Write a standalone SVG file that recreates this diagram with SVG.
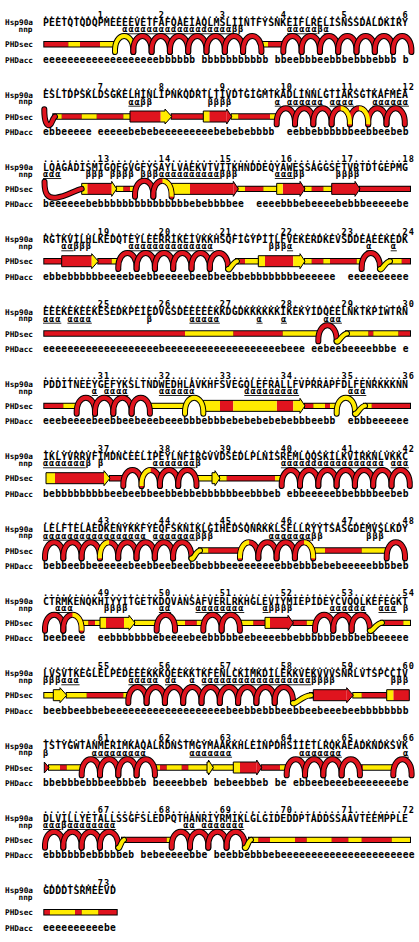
<svg xmlns="http://www.w3.org/2000/svg" width="419" height="942" viewBox="0 0 419 942">
<style>
text{font-family:"DejaVu Sans Mono","Liberation Mono",monospace;font-weight:bold;fill:#000;white-space:pre}
.ru{font-size:8.6px;letter-spacing:0.92px}
.sq{font-size:9.9px;letter-spacing:0.14px}
.nn{font-size:8.6px;letter-spacing:0.92px}
.ac{font-size:9.6px;letter-spacing:0.32px}
.lb{font-size:7.75px}
.u{text-decoration:underline}
.ko{fill:none;stroke:#000;stroke-width:6.4}
.kr{fill:none;stroke:#e0141e;stroke-width:4.4}
.ky{fill:none;stroke:#ffeb00;stroke-width:4.4}
.sr{fill:none;stroke:#e0141e;stroke-width:11}
.sy{fill:none;stroke:#ffeb00;stroke-width:11}
.fr{fill:#e0141e}
.fy{fill:#ffeb00}
.ol{fill:none;stroke:#000;stroke-width:1}
.to{fill:none;stroke:#000;stroke-width:6;stroke-linecap:round}
.tr{fill:none;stroke:#e0141e;stroke-width:4;stroke-linecap:round}
.ty{fill:none;stroke:#ffeb00;stroke-width:4;stroke-linecap:round}
.hx use{stroke:#e0141e}
.hx use.y{stroke:#ffeb00}
</style>
<defs>
<g id="A" fill="none" stroke-linecap="round"><path d="M0,52c-.9,-21.33 19.2,-21.33 18.3,0" stroke="#000" stroke-width="6"/><path d="M0,52c-.9,-21.33 19.2,-21.33 18.3,0" stroke-width="4"/></g>
<path id="L" d="M0,52c-.45,-10.67 4.35,-16 9.15,-16" fill="none" stroke="#ffeb00" stroke-width="4"/>
<path id="R" d="M9.15,36c4.8,0 9.6,5.33 9.15,16" fill="none" stroke="#ffeb00" stroke-width="4"/>
</defs>
<rect width="419" height="942" fill="#fff"/>

<g id="block1">
<text class="lb" x="5" y="25.3">Hsp90a</text><text class="lb" x="32.5" y="31.9" text-anchor="end">nnp</text><text class="lb" x="5" y="47.4">PHDsec</text><text class="lb" x="5" y="62.7">PHDacc</text>
<text class="ru" x="43" y="17.7">....,....1....,....2....,....3....,....4....,....5....,....6</text>
<text class="sq" x="43" y="26.1">PEETQTQDQPMEEEEVETFAFQAEIAQLMSLIINTFYSNKEIFLRELISNSSDALDKIRY</text>
<text class="nn" x="43" y="32.4"><tspan class="u" x="122.3">αααααααααααααααααα</tspan>ββ<tspan class="u" x="287">ααααα</tspan>β<tspan class="u">α</tspan></text>
<text class="ac" x="43" y="62.6" xml:space="preserve">eeeeeeeeeeeeeeeeeeebbbbbb bbbbbbbbbbb bbeebbbeebbbebbbebbb b</text>
<g id="sec1">
<path class="ko" d="M43.3,44.2H116M260.4,44.2H284.3"/>
<path class="kr" d="M44.3,44.2H68.3M80,44.2H100M268,44.2H283.3"/>
<path class="ky" d="M68.3,44.2H80M100,44.2H115M261.4,44.2H268"/>
<g class="hx"><use href="#A" x="115" class="y"/><use href="#A" x="133.3"/><use href="#A" x="151.6"/><use href="#A" x="169.9"/><use href="#A" x="188.2"/><use href="#A" x="206.5"/><use href="#A" x="224.8"/><use href="#A" x="243.1"/><use href="#A" x="283.3"/><use href="#A" x="301.6"/><use href="#A" x="319.9"/><use href="#A" x="338.2"/><use href="#A" x="356.5"/><use href="#A" x="374.8"/><use href="#A" x="393.1"/></g>
</g>
</g>

<g id="block2" transform="translate(0,72.33)">
<text class="lb" x="5" y="25.3">Hsp90a</text><text class="lb" x="32.5" y="31.9" text-anchor="end">nnp</text><text class="lb" x="5" y="47.4">PHDsec</text><text class="lb" x="5" y="62.7">PHDacc</text>
<text class="ru" x="43" y="17.7">....,....7....,....8....,....9....,....10...,....11...,....12</text>
<text class="sq" x="43" y="26.1">ESLTDPSKLDSGKELHINLIPNKQDRTLTIVDTGIGMTKADLINNLGTIAKSGTKAFMEA</text>
<text class="nn" x="43" y="32.4"><tspan class="u" x="128.4">αα</tspan>ββ<tspan x="207.7">ββββ</tspan><tspan class="u" x="274.8">α</tspan><tspan class="u" x="287">αααααα</tspan><tspan class="u" x="329.7">αααα</tspan><tspan class="u" x="372.4">αααααα</tspan></text>
<text class="ac" x="43" y="62.6" xml:space="preserve">ebbeeeee eeeeebebebeeeeeeeeebebebebbbb  eebbebbbbbbeebbeebeb</text>
<g id="sec2">
<path class="ko" d="M52.3,44.2H131M170.7,44.2H204.3M230.7,44.2H277.7"/>
<path class="kr" d="M61.7,44.2H81.7M96.7,44.2H123.3M171.7,44.2H203.3M238.3,44.2H270"/>
<path class="ky" d="M53.3,44.2H61.7M81.7,44.2H96.7M123.3,44.2H130M231.7,44.2H238.3M270,44.2H276.7"/>
<path class="sr" d="M130,44.2H160.7M209.3,44.2H226.7"/>
<path class="sy" d="M160.7,44.2H165M203.3,44.2H209.3"/>
<path class="fy" d="M165,36.7L171.7,44.2L165,51.7Z"/>
<path class="fr" d="M226.7,36.7L231.7,44.2L226.7,51.7Z"/>
<path class="ol" d="M130,38.7H165V36.7L171.7,44.2L165,51.7V49.7H130ZM203.3,38.7H226.7V36.7L231.7,44.2L226.7,51.7V49.7H203.3Z"/>
<path class="to" d="M44.3,37C44.3,50 47,54 50,52.5C52,51.5 53,45 55,44.2"/><path class="tr" d="M44.3,37C44.3,50 47,54 50,52.5C52,51.5 53,45 55,44.2"/>
<g class="hx"><use href="#A" x="276.7"/><use href="#A" x="295"/><use href="#A" x="313.3"/><use href="#A" x="331.6"/><use href="#A" x="349.9"/><use href="#A" x="368.2"/><use href="#A" x="386.5"/></g>
<use href="#R" x="331.6"/><use href="#R" x="349.9"/>
</g>
</g>

<g id="block3" transform="translate(0,144.67)">
<text class="lb" x="5" y="25.3">Hsp90a</text><text class="lb" x="32.5" y="31.9" text-anchor="end">nnp</text><text class="lb" x="5" y="47.4">PHDsec</text><text class="lb" x="5" y="62.7">PHDacc</text>
<text class="ru" x="43" y="17.7">....,....13...,....14...,....15...,....16...,....17...,....18</text>
<text class="sq" x="43" y="26.1">LQAGADISMIGQFGVGFYSAYLVAEKVTVITKHNDDEQYAWESSAGGSFTVRTDTGEPMG</text>
<text class="nn" x="43" y="32.4"><tspan class="u" x="43">ααα</tspan><tspan x="85.7">βββ</tspan><tspan x="110.1">ββββ</tspan><tspan x="140.6">βββ</tspan><tspan class="u">αααααααααα</tspan>βββ<tspan class="u" x="274.8">ααα</tspan>ββ<tspan x="335.8">ββββ</tspan></text>
<text class="ac" x="43" y="62.6" xml:space="preserve">beeeeeebebbbbbbbbbbbbbbbebebbbbee  eeeebbbebeeeebebbbeeeeebe</text>
<g id="sec3">
<path class="ko" d="M115.7,44.2H136M237.3,44.2H277.7M304,44.2H332.7M359,44.2H411"/>
<path class="kr" d="M123.3,44.2H130M245,44.2H263.3M311.7,44.2H323.3M360,44.2H410"/>
<path class="ky" d="M116.7,44.2H123.3M130,44.2H135M238.3,44.2H245M263.3,44.2H276.7M305,44.2H311.7M323.3,44.2H331.7"/>
<path class="sr" d="M87.3,44.2H111.7M190,44.2H233.3M282.7,44.2H300M331.7,44.2H355"/>
<path class="sy" d="M81.7,44.2H87.3M170,44.2H190M276.7,44.2H282.7"/>
<path class="fy" d="M111.7,36.7L116.7,44.2L111.7,51.7Z"/>
<path class="fr" d="M233.3,36.7L238.3,44.2L233.3,51.7ZM300,36.7L305,44.2L300,51.7ZM355,36.7L360,44.2L355,51.7Z"/>
<path class="ol" d="M81.7,38.7H111.7V36.7L116.7,44.2L111.7,51.7V49.7H81.7ZM170,38.7H233.3V36.7L238.3,44.2L233.3,51.7V49.7H170ZM276.7,38.7H300V36.7L305,44.2L300,51.7V49.7H276.7ZM331.7,38.7H355V36.7L360,44.2L355,51.7V49.7H331.7Z"/>
<path class="to" d="M44.5,37C44.5,50 48,54 56,53C66,52 74,46 81.7,44.2"/><path class="tr" d="M44.5,37C44.5,50 48,54 56,53C66,52 74,46 81.7,44.2"/>
<g class="hx"><use href="#A" x="135"/><use href="#A" x="153.3"/></g>
<use href="#R" x="153.3"/>
</g>
</g>

<g id="block4" transform="translate(0,217)">
<text class="lb" x="5" y="25.3">Hsp90a</text><text class="lb" x="32.5" y="31.9" text-anchor="end">nnp</text><text class="lb" x="5" y="47.4">PHDsec</text><text class="lb" x="5" y="62.7">PHDacc</text>
<text class="ru" x="43" y="17.7">....,....19...,....20...,....21...,....22...,....23...,....24</text>
<text class="sq" x="43" y="26.1">RGTKVILHLKEDQTEYLEERRIKEIVKKHSQFIGYPITLFVEKERDKEVSDDEAEEKEDK</text>
<text class="nn" x="43" y="32.4"><tspan class="u" x="61.3">αα</tspan>βββ<tspan class="u" x="128.4">αααααααααααααα</tspan><tspan x="268.7">βββ</tspan><tspan class="u">α</tspan><tspan class="u" x="366.3">α</tspan><tspan class="u" x="390.7">α</tspan></text>
<text class="ac" x="43" y="62.6" xml:space="preserve">ebbebbbbbbeeeebeebbeeeeebeebbeebbebbbbbbbbeeeeee  eeeeeeeeee</text>
<g id="sec4">
<path class="ko" d="M43.3,44.2H62.7M97.3,44.2H119.3M235,44.2H259.3M304,44.2H362.7M388,44.2H411"/>
<path class="kr" d="M44.3,44.2H61.7M98.3,44.2H111.7M240,44.2H245M311.7,44.2H323.3M330,44.2H356.7M401.7,44.2H410"/>
<path class="ky" d="M111.7,44.2H118.3M236,44.2H240M245,44.2H258.3M305,44.2H311.7M323.3,44.2H330M356.7,44.2H361.7M389,44.2H401.7"/>
<path class="sr" d="M61.7,44.2H91.7M265,44.2H293.3"/>
<path class="sy" d="M258.3,44.2H265M293.3,44.2H300"/>
<path class="fy" d="M91.7,36.7L98.3,44.2L91.7,51.7ZM300,36.7L305,44.2L300,51.7Z"/>
<path class="ol" d="M61.7,38.7H91.7V36.7L98.3,44.2L91.7,51.7V49.7H61.7ZM258.3,38.7H300V36.7L305,44.2L300,51.7V49.7H258.3Z"/>
<g class="hx"><use href="#A" x="118.3"/><use href="#A" x="136.6"/><use href="#A" x="154.9"/><use href="#A" x="173.2"/><use href="#A" x="191.5"/><use href="#A" x="209.8"/><use href="#A" x="361.7"/></g>
<path class="to" d="M228.1,52C229.5,54.5 233,44.5 237,44.2"/><path class="ty" d="M228.1,52C229.5,54.5 233,44.5 237,44.2"/>
<path class="to" d="M380,52C381.5,54.5 385,44.5 390,44.2"/><path class="ty" d="M380,52C381.5,54.5 385,44.5 390,44.2"/>
</g>
</g>

<g id="block5" transform="translate(0,289.33)">
<text class="lb" x="5" y="25.3">Hsp90a</text><text class="lb" x="32.5" y="31.9" text-anchor="end">nnp</text><text class="lb" x="5" y="47.4">PHDsec</text><text class="lb" x="5" y="62.7">PHDacc</text>
<text class="ru" x="43" y="17.7">....,....25...,....26...,....27...,....28...,....29...,....30</text>
<text class="sq" x="43" y="26.1">EEEKEKEEKESEDKPEIEDVGSDEEEEEKKDGDKKKKKKIKEKYIDQEELNKTKPIWTRN</text>
<text class="nn" x="43" y="32.4"><tspan class="u" x="43">ααα</tspan><tspan class="u" x="67.4">αααα</tspan><tspan x="146.7">β</tspan><tspan class="u" x="189.4">ααααα</tspan><tspan class="u" x="256.5">α</tspan><tspan class="u" x="280.9">α</tspan><tspan class="u" x="323.6">ααα</tspan></text>
<text class="ac" x="43" y="62.6" xml:space="preserve">eeeeeeeeeeeeeeeeeeebeeeeeeeeeeeeeeeeeeebeee eebeebeeeebbbe e</text>
<g id="sec5">
<path class="ko" d="M43.3,44.2H319.3M345,44.2H411"/>
<path class="kr" d="M44.3,44.2H185M233.3,44.2H282.7M368.3,44.2H373.3M398.3,44.2H410"/>
<path class="ky" d="M185,44.2H233.3M282.7,44.2H318.3M346,44.2H368.3M373.3,44.2H398.3"/>
<g class="hx"><use href="#A" x="318.3"/></g>
<path class="to" d="M336.6,52C338,54.5 342,44.5 347,44.2"/><path class="ty" d="M336.6,52C338,54.5 342,44.5 347,44.2"/>
</g>
</g>

<g id="block6" transform="translate(0,361.67)">
<text class="lb" x="5" y="25.3">Hsp90a</text><text class="lb" x="32.5" y="31.9" text-anchor="end">nnp</text><text class="lb" x="5" y="47.4">PHDsec</text><text class="lb" x="5" y="62.7">PHDacc</text>
<text class="ru" x="43" y="17.7">....,....31...,....32...,....33...,....34...,....35...,....36</text>
<text class="sq" x="43" y="26.1">PDDITNEEYGEFYKSLTNDWEDHLAVKHFSVEGQLEFRALLFVPRRAPFDLFENRKKKNN</text>
<text class="nn" x="43" y="32.4"><tspan class="u" x="91.8">α</tspan><tspan class="u" x="104">αααα</tspan><tspan class="u" x="158.9">αααααα</tspan><tspan class="u" x="244.3">ααααααααα</tspan><tspan class="u" x="348">ααα</tspan></text>
<text class="ac" x="43" y="62.6" xml:space="preserve">eeebeeeebeebbeebeeebeeebbbebbbebebebebebebbbeebb  ebbbeeeeee</text>
<g id="sec6">
<path class="ko" d="M43.3,44.2H77.7M148.9,44.2H186M304,44.2H337.7M363,44.2H411"/>
<path class="kr" d="M44.3,44.2H63.3M305,44.2H313.3M325,44.2H330M371.7,44.2H410"/>
<path class="ky" d="M63.3,44.2H76.7M149.9,44.2H185M313.3,44.2H325M330,44.2H336.7M364,44.2H371.7"/>
<path class="sr" d="M220,44.2H233.3M276.7,44.2H293.3"/>
<path class="sy" d="M203.3,44.2H220M233.3,44.2H276.7M293.3,44.2H300"/>
<path class="fy" d="M300,36.7L305,44.2L300,51.7Z"/>
<path class="ol" d="M203.3,38.7H300V36.7L305,44.2L300,51.7V49.7H203.3Z"/>
<g class="hx"><use href="#A" x="76.7"/><use href="#A" x="95"/><use href="#A" x="113.3"/><use href="#A" x="131.6"/><use href="#A" x="185" class="y"/><use href="#A" x="336.7" class="y"/></g>
<path class="to" d="M355,52C356.5,54.5 360,44.5 365,44.2"/><path class="ty" d="M355,52C356.5,54.5 360,44.5 365,44.2"/>
</g>
</g>

<g id="block7" transform="translate(0,434)">
<text class="lb" x="5" y="25.3">Hsp90a</text><text class="lb" x="32.5" y="31.9" text-anchor="end">nnp</text><text class="lb" x="5" y="47.4">PHDsec</text><text class="lb" x="5" y="62.7">PHDacc</text>
<text class="ru" x="43" y="17.7">....,....37...,....38...,....39...,....40...,....41...,....42</text>
<text class="sq" x="43" y="26.1">IKLYVRRVFIMDNCEELIPEYLNFIRGVVDSEDLPLNISREMLQQSKILKVIRKNLVKKC</text>
<text class="nn" x="43" y="32.4"><tspan class="u" x="43">ααααααα</tspan>β<tspan x="97.9">β</tspan><tspan class="u" x="152.8">ααααααα</tspan>β<tspan class="u" x="280.9">ααααααααααααααααα</tspan><tspan class="u" x="390.7">ααα</tspan></text>
<text class="ac" x="43" y="62.6" xml:space="preserve">bebbbbbbbbbeebeebbeebbebbebbbbbbeebbbeb ebbeeeeebbebbbbeebeb</text>
<g id="sec7">
<path class="ko" d="M109,44.2H124.3M195.5,44.2H213M219,44.2H282.7"/>
<path class="kr" d="M110,44.2H123.3M226.7,44.2H275"/>
<path class="ky" d="M196.5,44.2H212M220,44.2H226.7M275,44.2H281.7"/>
<path class="sr" d="M55,44.2H104"/>
<path class="sy" d="M46,44.2H55M212,44.2H215"/>
<path class="fy" d="M104,36.7L110,44.2L104,51.7ZM215,36.7L220,44.2L215,51.7Z"/>
<path class="ol" d="M46,38.7H104V36.7L110,44.2L104,51.7V49.7H46ZM212,38.7H215V36.7L220,44.2L215,51.7V49.7H212Z"/>
<g class="hx"><use href="#A" x="123.3"/><use href="#A" x="141.6"/><use href="#A" x="159.9"/><use href="#A" x="178.2"/><use href="#A" x="281.7"/><use href="#A" x="300"/><use href="#A" x="318.3"/><use href="#A" x="336.6"/><use href="#A" x="354.9"/><use href="#A" x="373.2"/><use href="#A" x="391.5"/></g>
<use href="#L" x="141.6"/>
</g>
</g>

<g id="block8" transform="translate(0,506.33)">
<text class="lb" x="5" y="25.3">Hsp90a</text><text class="lb" x="32.5" y="31.9" text-anchor="end">nnp</text><text class="lb" x="5" y="47.4">PHDsec</text><text class="lb" x="5" y="62.7">PHDacc</text>
<text class="ru" x="43" y="17.7">....,....43...,....44...,....45...,....46...,....47...,....48</text>
<text class="sq" x="43" y="26.1">LELFTELAEDKENYKKFYEQFSKNIKLGIHEDSQNRKKLSELLRYYTSASGDEMVSLKDY</text>
<text class="nn" x="43" y="32.4"><tspan class="u" x="43">ααααααααααααααααα</tspan><tspan class="u" x="152.8">ααααααα</tspan>βββ<tspan class="u" x="268.7">ααααααα</tspan>ββ<tspan x="366.3">βββ</tspan></text>
<text class="ac" x="43" y="62.6" xml:space="preserve">bebbeebbeeeeeebeebbeebeebbebbbeeeeeeeeebbebbbebebeeeeebbbbeb</text>
<g id="sec8">
<path class="ko" d="M198,44.2H241M312.2,44.2H387.7"/>
<path class="kr" d="M208.3,44.2H240M325,44.2H361.7"/>
<path class="ky" d="M199,44.2H208.3M313.2,44.2H325M361.7,44.2H386.7"/>
<g class="hx"><use href="#A" x="45"/><use href="#A" x="63.3"/><use href="#A" x="81.6"/><use href="#A" x="99.9"/><use href="#A" x="118.2"/><use href="#A" x="136.5"/><use href="#A" x="154.8"/><use href="#A" x="173.1"/><use href="#A" x="240"/><use href="#A" x="258.3"/><use href="#A" x="276.6"/><use href="#A" x="294.9"/><use href="#A" x="386.7"/></g>
<use href="#L" x="99.9"/><use href="#L" x="240"/><use href="#R" x="294.9"/>
<path class="to" d="M191.4,52C193,54.5 196,44.5 200,44.2"/><path class="ty" d="M191.4,52C193,54.5 196,44.5 200,44.2"/>
</g>
</g>

<g id="block9" transform="translate(0,578.67)">
<text class="lb" x="5" y="25.3">Hsp90a</text><text class="lb" x="32.5" y="31.9" text-anchor="end">nnp</text><text class="lb" x="5" y="47.4">PHDsec</text><text class="lb" x="5" y="62.7">PHDacc</text>
<text class="ru" x="43" y="17.7">....,....49...,....50...,....51...,....52...,....53...,....54</text>
<text class="sq" x="43" y="26.1">CTRMKENQKHIYYITGETKDQVANSAFVERLRKHGLEVIYMIEPIDEYCVQQLKEFEGKT</text>
<text class="nn" x="43" y="32.4"><tspan class="u" x="55.2">ααα</tspan><tspan x="104">ββββ</tspan><tspan class="u" x="158.9">αα</tspan><tspan class="u" x="195.5">αααααααα</tspan><tspan class="u" x="262.6">α</tspan>ββββ<tspan class="u" x="329.7">αααααα</tspan><tspan class="u" x="378.5">ααα</tspan><tspan x="402.9">β</tspan></text>
<text class="ac" x="43" y="62.6" xml:space="preserve">beebeee  eebbbbbbbebeeeebeebbbbbeebeeeebbebbbbbbebbbebbeeeee</text>
<g id="sec9">
<path class="ko" d="M80.6,44.2H101M134,44.2H157.7M174,44.2H204.3M238.9,44.2H266M292.3,44.2H316M380,44.2H411"/>
<path class="kr" d="M88.3,44.2H95M185,44.2H196.7M253.3,44.2H265M293.3,44.2H306.7M385,44.2H403.3"/>
<path class="ky" d="M81.6,44.2H88.3M95,44.2H100M135,44.2H156.7M175,44.2H185M196.7,44.2H203.3M239.9,44.2H253.3M306.7,44.2H315M381,44.2H385M403.3,44.2H410"/>
<path class="sr" d="M106,44.2H124M270,44.2H288"/>
<path class="sy" d="M100,44.2H106M124,44.2H129M265,44.2H270"/>
<path class="fy" d="M129,36.7L135,44.2L129,51.7Z"/>
<path class="fr" d="M288,36.7L293.3,44.2L288,51.7Z"/>
<path class="ol" d="M100,38.7H129V36.7L135,44.2L129,51.7V49.7H100ZM265,38.7H288V36.7L293.3,44.2L288,51.7V49.7H265Z"/>
<g class="hx"><use href="#A" x="45"/><use href="#A" x="63.3"/><use href="#A" x="156.7"/><use href="#A" x="203.3"/><use href="#A" x="221.6"/><use href="#A" x="315"/><use href="#A" x="333.3"/><use href="#A" x="351.6"/></g>
<use href="#R" x="63.3"/>
<path class="to" d="M369.9,52C371.5,54.5 376,44.5 382,44.2"/><path class="ty" d="M369.9,52C371.5,54.5 376,44.5 382,44.2"/>
</g>
</g>

<g id="block10" transform="translate(0,651)">
<text class="lb" x="5" y="25.3">Hsp90a</text><text class="lb" x="32.5" y="31.9" text-anchor="end">nnp</text><text class="lb" x="5" y="47.4">PHDsec</text><text class="lb" x="5" y="62.7">PHDacc</text>
<text class="ru" x="43" y="17.7">....,....55...,....56...,....57...,....58...,....59...,....60</text>
<text class="sq" x="43" y="26.1">LVSVTKEGLELPEDEEEKKKQEEKKTKFENLCKIMKDILEKKVEKVVVSNRLVTSPCCIV</text>
<text class="nn" x="43" y="32.4"><tspan x="43">βββ</tspan><tspan class="u">ααα</tspan><tspan class="u" x="128.4">ααααα</tspan><tspan class="u" x="165">αα</tspan><tspan class="u" x="189.4">α</tspan><tspan class="u" x="201.6">αααααααααααααααααα</tspan>ββββ<tspan x="390.7">βββ</tspan></text>
<text class="ac" x="43" y="62.6" xml:space="preserve">beebbeebbebeeeeeeeeeeeeeeeeeeebeebbebbbeebbeebeeebeebbbbbbbb</text>
<g id="sec10">
<path class="ko" d="M43.3,44.2H54.3M65.7,44.2H129.3M309,44.2H314.3M352.3,44.2H387.7"/>
<path class="kr" d="M86.7,44.2H123.3M361.7,44.2H386.7"/>
<path class="ky" d="M44.3,44.2H53.3M66.7,44.2H86.7M123.3,44.2H128.3M310,44.2H313.3M353.3,44.2H361.7"/>
<path class="sr" d="M313.3,44.2H346.7M393.3,44.2H409.3"/>
<path class="sy" d="M53.3,44.2H60M386.7,44.2H393.3"/>
<path class="fy" d="M60,36.7L66.7,44.2L60,51.7Z"/>
<path class="fr" d="M346.7,36.7L353.3,44.2L346.7,51.7Z"/>
<path class="ol" d="M53.3,38.7H60V36.7L66.7,44.2L60,51.7V49.7H53.3ZM313.3,38.7H346.7V36.7L353.3,44.2L346.7,51.7V49.7H313.3ZM386.7,38.7H409.3V49.7H386.7Z"/>
<g class="hx"><use href="#A" x="128.3"/><use href="#A" x="146.6"/><use href="#A" x="164.9"/><use href="#A" x="183.2"/><use href="#A" x="201.5"/><use href="#A" x="219.8"/><use href="#A" x="238.1"/><use href="#A" x="256.4"/><use href="#A" x="274.7"/></g>
<path class="to" d="M293,52C295,54.5 302,44.5 311,44.2"/><path class="ty" d="M293,52C295,54.5 302,44.5 311,44.2"/>
</g>
</g>

<g id="block11" transform="translate(0,723.33)">
<text class="lb" x="5" y="25.3">Hsp90a</text><text class="lb" x="32.5" y="31.9" text-anchor="end">nnp</text><text class="lb" x="5" y="47.4">PHDsec</text><text class="lb" x="5" y="62.7">PHDacc</text>
<text class="ru" x="43" y="17.7">....,....61...,....62...,....63...,....64...,....65...,....66</text>
<text class="sq" x="43" y="26.1">TSTYGWTANMERIMKAQALRDNSTMGYMAAKKHLEINPDHSIIETLRQKAEADKNDKSVK</text>
<text class="nn" x="43" y="32.4"><tspan x="43">β</tspan><tspan class="u" x="91.8">ααααααααα</tspan><tspan class="u" x="189.4">ααααααα</tspan><tspan class="u" x="299.2">ααααααα</tspan><tspan class="u" x="402.9">α</tspan></text>
<text class="ac" x="43" y="62.6" xml:space="preserve">bbebbbebbbeebbbeb beeeebbeb bebeebbeb be ebbeebeeebeeeeeeebe</text>
<g id="sec11">
<path class="ko" d="M48,44.2H82.7M153.9,44.2H208M212.3,44.2H234.3M260.7,44.2H287.7M358.9,44.2H394.3"/>
<path class="kr" d="M60,44.2H66.7M160,44.2H166.7M181.7,44.2H188.3M261.7,44.2H280M359.9,44.2H363"/>
<path class="ky" d="M49,44.2H60M66.7,44.2H81.7M154.9,44.2H160M166.7,44.2H181.7M188.3,44.2H207M213.3,44.2H233.3M280,44.2H286.7M363,44.2H393.3"/>
<path class="sr" d="M240,44.2H256.7"/>
<path class="sy" d="M207,44.2H208.5M233.3,44.2H240"/>
<path class="fr" d="M44.3,38.7L49,44.2L44.3,49.7ZM256.7,36.7L261.7,44.2L256.7,51.7Z"/>
<path class="fy" d="M208.5,36.7L213.3,44.2L208.5,51.7Z"/>
<path class="ol" d="M44.3,38.7L49,44.2L44.3,49.7ZM207,38.7H208.5V36.7L213.3,44.2L208.5,51.7V49.7H207ZM233.3,38.7H256.7V36.7L261.7,44.2L256.7,51.7V49.7H233.3Z"/>
<g class="hx"><use href="#A" x="81.7"/><use href="#A" x="100"/><use href="#A" x="118.3"/><use href="#A" x="136.6"/><use href="#A" x="286.7"/><use href="#A" x="305"/><use href="#A" x="323.3"/><use href="#A" x="341.6"/><use href="#A" x="393.3"/></g>
</g>
</g>

<g id="block12" transform="translate(0,795.67)">
<text class="lb" x="5" y="25.3">Hsp90a</text><text class="lb" x="32.5" y="31.9" text-anchor="end">nnp</text><text class="lb" x="5" y="47.4">PHDsec</text><text class="lb" x="5" y="62.7">PHDacc</text>
<text class="ru" x="43" y="17.7">....,....67...,....68...,....69...,....70...,....71...,....72</text>
<text class="sq" x="43" y="26.1">DLVILLYETALLSSGFSLEDPQTHANRIYRMIKLGLGIDEDDPTADDSSAAVTEEMPPLE</text>
<text class="nn" x="43" y="32.4"><tspan class="u" x="43">ααα</tspan>β<tspan class="u">αααααααα</tspan><tspan class="u" x="183.3">αα</tspan><tspan class="u" x="201.6">ααααααα</tspan></text>
<text class="ac" x="43" y="62.6" xml:space="preserve">ebbbbbbebbbbbeb bebeeeeebbe beebbebbbebeeeeeeeeeeeeeeeeeeeeee</text>
<g id="sec12">
<path class="ko" d="M121,44.2H172.7M248,44.2H411"/>
<path class="kr" d="M126.7,44.2H166.7M258.3,44.2H270M295,44.2H306.7M331.7,44.2H348.3M361.7,44.2H391.7"/>
<path class="ky" d="M122,44.2H126.7M166.7,44.2H171.7M249,44.2H258.3M270,44.2H295M306.7,44.2H331.7M348.3,44.2H361.7M391.7,44.2H410"/>
<g class="hx"><use href="#A" x="45"/><use href="#A" x="63.3"/><use href="#A" x="81.6"/><use href="#A" x="99.9"/><use href="#A" x="171.7"/><use href="#A" x="190"/><use href="#A" x="208.3"/><use href="#A" x="226.6"/></g>
<path class="to" d="M118.2,52C119.5,54.5 121,45 124,44.2"/><path class="ty" d="M118.2,52C119.5,54.5 121,45 124,44.2"/>
<path class="to" d="M244.9,52C246.5,54.5 248,45 251,44.2"/><path class="ty" d="M244.9,52C246.5,54.5 248,45 251,44.2"/>
</g>
</g>

<g id="block13" transform="translate(0,868)">
<text class="lb" x="5" y="25.3">Hsp90a</text><text class="lb" x="32.5" y="31.9" text-anchor="end">nnp</text><text class="lb" x="5" y="47.4">PHDsec</text><text class="lb" x="5" y="62.7">PHDacc</text>
<text class="ru" x="43" y="17.7">....,....73.</text>
<text class="sq" x="43" y="26.1">GDDDTSRMEEVD</text>
<text class="ac" x="43" y="62.6">eeeeeeeeeebe</text>
<g id="sec13">
<path class="ko" d="M43.3,44.2H117.7"/>
<path class="kr" d="M44.3,44.2H50M75,44.2H81.7M98.3,44.2H116.7"/>
<path class="ky" d="M50,44.2H75M81.7,44.2H98.3"/>
</g>
</g>
</svg>
